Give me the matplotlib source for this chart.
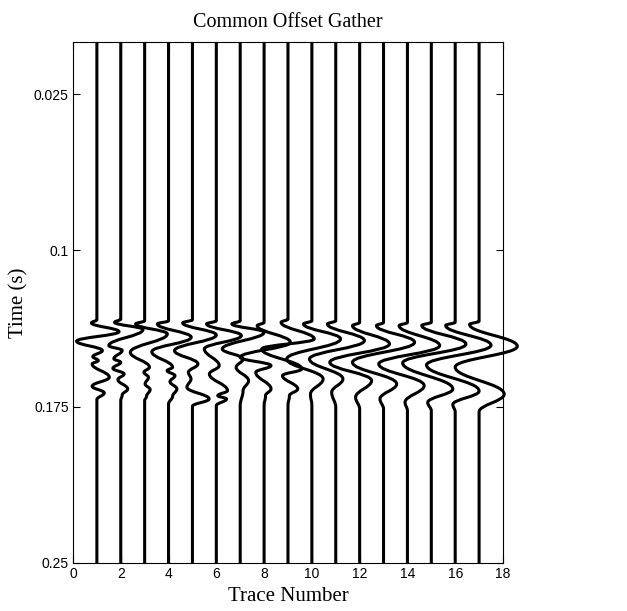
import numpy as np
import matplotlib
matplotlib.use('Agg')
from matplotlib import pyplot as plt
from matplotlib.path import Path
from matplotlib.patches import PathPatch

# trace numbers and picked extrema (time in s, amplitude in trace units)
trace_numbers = list(range(1, 18))
t_end = 0.25

tr01 = [(0.1348, -0.23), (0.1390, 0.93), (0.1436, -0.85), (0.1481, 0.23), (0.1510, -0.17), (0.1529, 0.06),
        (0.1545, -0.20), (0.1609, 0.52), (0.1652, -0.20), (0.1684, 0.31), (0.1716, 0.0)]
tr02 = [(0.1345, -0.26), (0.1380, 0.93), (0.1457, -0.50), (0.1480, 0.06), (0.1520, -0.29), (0.1537, 0.00),
        (0.1566, -0.33), (0.1593, 0.14), (0.1620, -0.12), (0.1665, 0.29), (0.1694, 0.06), (0.1721, 0.0)]
tr03 = [(0.1353, -0.38), (0.1401, 0.95), (0.1489, -0.60), (0.1561, 0.20), (0.1585, -0.03), (0.1609, 0.16),
        (0.1641, 0.02), (0.1668, 0.23), (0.1700, 0.08), (0.1721, 0.0)]
tr04 = [(0.1353, -0.47), (0.1417, 0.95), (0.1486, -0.70), (0.1561, 0.17), (0.1577, -0.06), (0.1601, 0.27),
        (0.1630, 0.06), (0.1665, 0.35), (0.1700, 0.17), (0.1737, 0.0)]
tr05 = [(0.1348, -0.41), (0.1406, 1.00), (0.1481, -0.75), (0.1545, 0.23), (0.1585, -0.17), (0.1617, -0.06),
        (0.1657, -0.23), (0.1713, 0.70), (0.1748, 0.0)]
tr06 = [(0.1353, -0.41), (0.1409, 1.05), (0.1473, -0.50), (0.1553, 0.12), (0.1593, -0.29), (0.1673, 0.47),
        (0.1697, 0.06), (0.1713, 0.43), (0.1745, 0.0)]
tr07 = [(0.1353, -0.35), (0.1393, 1.00), (0.1473, -0.75), (0.1521, 0.12), (0.1561, -0.17), (0.1625, 0.35),
        (0.1673, 0.12), (0.1745, 0.0)]
tr08 = [(0.1361, -0.29), (0.1441, 1.10), (0.1513, -1.00), (0.1553, 0.29), (0.1585, -0.35), (0.1665, 0.29),
        (0.1697, 0.06), (0.1745, 0.0)]
tr09 = [(0.1345, -0.29), (0.1425, 1.10), (0.1473, -1.10), (0.1569, 0.58), (0.1601, -0.23), (0.1665, 0.41),
        (0.1697, 0.06), (0.1745, 0.0)]
tr10 = [(0.1353, -0.35), (0.1425, 1.20), (0.1521, -1.05), (0.1617, 0.47), (0.1690, -0.06), (0.1745, 0.0)]
tr11 = [(0.1353, -0.35), (0.1433, 1.20), (0.1521, -1.10), (0.1617, 0.30), (0.1681, -0.17), (0.1753, 0.0)]
tr12 = [(0.1361, -0.30), (0.1449, 1.25), (0.1537, -1.25), (0.1625, 0.50), (0.1705, -0.17), (0.1761, 0.0)]
tr13 = [(0.1361, -0.30), (0.1441, 1.30), (0.1537, -1.30), (0.1641, 0.55), (0.1713, -0.15), (0.1761, 0.0)]
tr14 = [(0.1361, -0.35), (0.1457, 1.35), (0.1545, -1.20), (0.1649, 0.70), (0.1729, -0.10), (0.1770, 0.0)]
tr15 = [(0.1360, -0.40), (0.1450, 1.45), (0.1540, -1.20), (0.1665, 0.90), (0.1730, -0.15), (0.1770, 0.0)]
tr16 = [(0.1360, -0.40), (0.1455, 1.50), (0.1550, -1.20), (0.1675, 1.00), (0.1740, -0.10), (0.1775, 0.0)]
tr17 = [(0.1355, -0.40), (0.1460, 1.60), (0.1560, -1.00), (0.1690, 1.05), (0.1775, 0.0)]

traces = [tr01, tr02, tr03, tr04, tr05, tr06, tr07, tr08, tr09,
          tr10, tr11, tr12, tr13, tr14, tr15, tr16, tr17]

ytick_vals = [0.025, 0.1, 0.175, 0.25]
ytick_labels = ['0.025', '0.1', '0.175', '0.25']
xtick_vals = list(range(0, 19, 2))


def wiggle_path(x0, picks):
    # straight down to the onset, then smooth swings between extrema
    knots = [(0.0, 0.0), (picks[0][0] - 0.0015, 0.0)] + picks + [(t_end, 0.0)]
    verts = [(x0 + knots[0][1], knots[0][0])]
    codes = [Path.MOVETO]
    for (ta, aa), (tb, ab) in zip(knots[:-1], knots[1:]):
        h = 0.4 * (tb - ta)
        verts += [(x0 + aa, ta + h), (x0 + ab, tb - h), (x0 + ab, tb)]
        codes += [Path.CURVE4] * 3
    return Path(verts, codes)


fig = plt.figure(figsize=(6.27, 6.11), dpi=100)
ax = fig.add_axes([0.1164, 0.0786, 0.6858, 0.8527])

for n, picks in zip(trace_numbers, traces):
    ax.add_patch(PathPatch(wiggle_path(n, picks), fill=False, lw=2.2, ec='black',
                           capstyle='butt', joinstyle='round', clip_on=False))

ax.set_xlim(0, 18)
ax.set_ylim(t_end, 0)
ax.set_xticks(xtick_vals)
ax.set_yticks(ytick_vals)
ax.set_yticklabels(ytick_labels)
ax.tick_params(direction='in', top=True, right=True, length=5, labelsize=10, pad=3)
for lab in ax.get_xticklabels() + ax.get_yticklabels():
    lab.set_fontfamily('Liberation Sans')

ax.set_title('Common Offset Gather', fontfamily='Liberation Serif', fontsize=14.5, pad=11)
ax.set_xlabel('Trace Number', fontfamily='Liberation Serif', fontsize=15, labelpad=4)
ax.set_ylabel('Time (s)', fontfamily='Liberation Serif', fontsize=15, labelpad=4)

plt.savefig('out.png', dpi=100)
